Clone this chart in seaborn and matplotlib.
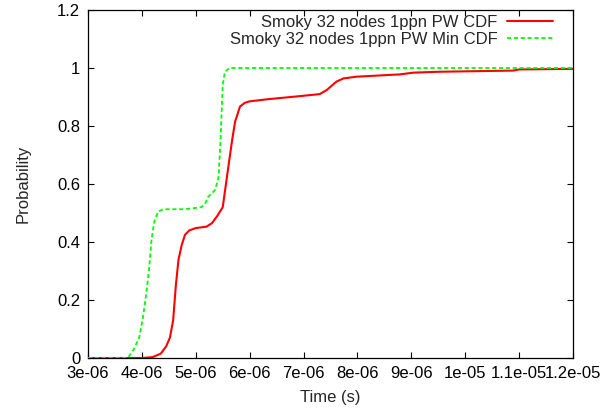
import matplotlib
matplotlib.use("Agg")
import matplotlib.pyplot as plt
import seaborn as sns
import pandas as pd
from matplotlib.ticker import FuncFormatter, MultipleLocator

# ---- data ----
red_label = "Smoky 32 nodes 1ppn PW CDF"
green_label = "Smoky 32 nodes 1ppn PW Min CDF"

red_time = [3.0e-6, 4.0e-6, 4.2e-6, 4.35e-6, 4.45e-6, 4.52e-6, 4.58e-6, 4.63e-6, 4.68e-6,
            4.74e-6, 4.8e-6, 4.88e-6, 5.0e-6, 5.2e-6, 5.3e-6, 5.4e-6, 5.5e-6, 5.56e-6,
            5.62e-6, 5.68e-6, 5.73e-6, 5.82e-6, 5.91e-6, 6.0e-6, 6.32e-6, 6.93e-6, 7.3e-6,
            7.43e-6, 7.61e-6, 7.74e-6, 7.98e-6, 8.79e-6, 9.04e-6, 9.5e-6, 1.05e-5, 1.089e-5,
            1.1e-5, 1.2e-5]
red_prob = [0.0, 0.0, 0.003, 0.015, 0.04, 0.07, 0.13, 0.25, 0.34,
            0.39, 0.425, 0.44, 0.448, 0.453, 0.465, 0.49, 0.52, 0.6,
            0.68, 0.758, 0.815, 0.867, 0.88, 0.885, 0.892, 0.903, 0.91,
            0.924, 0.953, 0.964, 0.97, 0.978, 0.984, 0.987, 0.99, 0.991,
            0.995, 0.997]

green_time = [3.0e-6, 3.74e-6, 3.85e-6, 3.95e-6, 4.02e-6, 4.08e-6, 4.13e-6, 4.18e-6, 4.23e-6,
              4.3e-6, 4.4e-6, 4.8e-6, 5.1e-6, 5.17e-6, 5.23e-6, 5.3e-6, 5.36e-6, 5.42e-6,
              5.46e-6, 5.48e-6, 5.5e-6, 5.54e-6, 5.63e-6, 1.2e-5]
green_prob = [0.0, 0.0, 0.03, 0.07, 0.14, 0.22, 0.3, 0.41, 0.47,
              0.505, 0.513, 0.513, 0.52, 0.53, 0.556, 0.568, 0.58, 0.62,
              0.75, 0.85, 0.94, 0.987, 1.0, 1.0]

x_ticks = [3e-6, 4e-6, 5e-6, 6e-6, 7e-6, 8e-6, 9e-6, 1e-5, 1.1e-5, 1.2e-5]
y_ticks = [0, 0.2, 0.4, 0.6, 0.8, 1.0, 1.2]

# ---- style ----
sns.set_style("ticks")
plt.rcParams["font.family"] = ["Liberation Sans", "DejaVu Sans"]
plt.rcParams["font.size"] = 12

fig = plt.figure(figsize=(6.04, 4.13), dpi=100)
ax = fig.add_axes([88 / 604, (413 - 358) / 413, (573 - 88) / 604, (358 - 10) / 413])

sns.lineplot(x=green_time, y=green_prob, ax=ax, color="#00ff00", linewidth=1.3,
             dashes=False, label=green_label, zorder=3, sort=False)
sns.lineplot(x=red_time, y=red_prob, ax=ax, color="#ff0000", linewidth=1.5,
             label=red_label, zorder=2, sort=False)
ax.lines[0].set_dashes((2.3, 1.5))

ax.set_xlim(3e-6, 1.2e-5)
ax.set_ylim(0, 1.2)
ax.set_xticks(x_ticks)
ax.set_yticks(y_ticks)
ax.xaxis.set_major_formatter(FuncFormatter(lambda v, p: "%g" % v))
ax.yaxis.set_major_formatter(FuncFormatter(lambda v, p: "%g" % v))
ax.tick_params(direction="in", length=4.5, width=0.8, top=True, right=True,
               labelsize=12, colors="black")
ax.tick_params(axis="x", pad=6)
ax.tick_params(axis="y", pad=5.5)
for s in ax.spines.values():
    s.set_visible(True)
    s.set_linewidth(0.9)
    s.set_color("black")

ax.set_xlabel("Time (s)", fontsize=12, labelpad=6.5)
ax.set_ylabel("Probability", fontsize=12, labelpad=19)

handles, labels = ax.get_legend_handles_labels()
order = [labels.index(red_label), labels.index(green_label)]
ax.legend([handles[i] for i in order], [labels[i] for i in order],
          loc="upper right", bbox_to_anchor=(0.959, 0.985), frameon=False,
          markerfirst=False, borderpad=0, borderaxespad=0, handlelength=2.75,
          handletextpad=0.6, labelspacing=0.1, fontsize=12)

fig.savefig("out.png", dpi=100)
